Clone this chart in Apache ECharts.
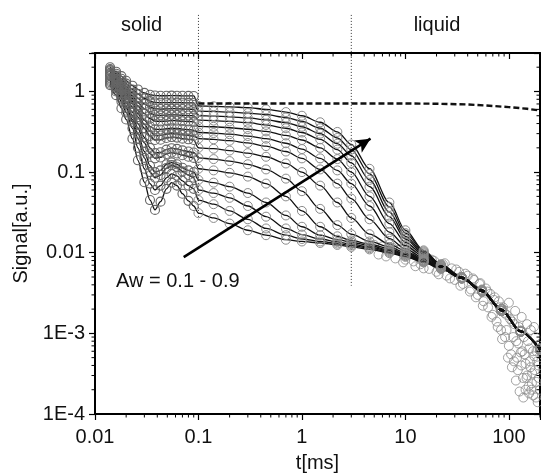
<!DOCTYPE html>
<html>
<head>
<meta charset="utf-8">
<script src="https://cdn.jsdelivr.net/npm/echarts@6/dist/echarts.min.js"></script>
<style>
html,body{margin:0;padding:0;background:#fff}
#main{width:541px;height:473px}
</style>
</head>
<body>
<div id="main"></div>
<script>
// time grids (ms): solid part (dense) and liquid part
var tSolid  = [0.014, 0.016, 0.018, 0.02, 0.023, 0.026, 0.03, 0.034, 0.038, 0.043, 0.049, 0.055, 0.062, 0.07, 0.08, 0.09];
var tLiquid = [0.1, 0.14, 0.2, 0.3, 0.45, 0.7, 1, 1.5, 2.2, 3, 4.5, 7, 10, 15, 22, 35, 55, 85, 130, 200];

// solid part of each curve, lowest curve first
var s0  = [1.2, 0.9, 0.62, 0.45, 0.26, 0.14, 0.075, 0.045, 0.034, 0.043, 0.062, 0.074, 0.068, 0.054, 0.044, 0.038];
var s1  = [1.25, 1.0, 0.75, 0.55, 0.35, 0.2, 0.11, 0.072, 0.06, 0.068, 0.085, 0.095, 0.09, 0.078, 0.068, 0.062];
var s2  = [1.3, 1.05, 0.82, 0.62, 0.42, 0.26, 0.15, 0.1, 0.085, 0.092, 0.112, 0.122, 0.115, 0.102, 0.092, 0.085];
var s3  = [1.35, 1.1, 0.85, 0.65, 0.45, 0.3, 0.18, 0.12, 0.1, 0.105, 0.125, 0.132, 0.125, 0.113, 0.105, 0.1];
var s4  = [1.4, 1.15, 0.9, 0.72, 0.5, 0.35, 0.23, 0.17, 0.148, 0.152, 0.168, 0.175, 0.17, 0.162, 0.155, 0.15];
var s5  = [1.45, 1.2, 0.95, 0.76, 0.55, 0.4, 0.27, 0.2, 0.172, 0.176, 0.19, 0.198, 0.194, 0.186, 0.18, 0.175];
var s6  = [1.55, 1.3, 1.05, 0.85, 0.64, 0.48, 0.35, 0.28, 0.25, 0.252, 0.265, 0.272, 0.268, 0.26, 0.255, 0.25];
var s7  = [1.6, 1.35, 1.1, 0.9, 0.7, 0.53, 0.39, 0.32, 0.285, 0.285, 0.295, 0.3, 0.298, 0.29, 0.285, 0.28];
var s8  = [1.65, 1.4, 1.15, 0.95, 0.75, 0.58, 0.44, 0.37, 0.34, 0.338, 0.345, 0.35, 0.348, 0.342, 0.336, 0.33];
var s9  = [1.7, 1.45, 1.22, 1.02, 0.82, 0.66, 0.53, 0.46, 0.43, 0.425, 0.43, 0.435, 0.433, 0.428, 0.424, 0.42];
var s10 = [1.78, 1.52, 1.28, 1.08, 0.88, 0.73, 0.61, 0.54, 0.51, 0.505, 0.51, 0.514, 0.512, 0.507, 0.503, 0.5];
var s11 = [1.84, 1.58, 1.35, 1.15, 0.96, 0.82, 0.7, 0.64, 0.61, 0.605, 0.608, 0.612, 0.61, 0.606, 0.603, 0.6];
var s12 = [1.9, 1.66, 1.44, 1.25, 1.06, 0.93, 0.82, 0.76, 0.73, 0.725, 0.727, 0.73, 0.728, 0.725, 0.722, 0.72];
var s13 = [2.0, 1.76, 1.55, 1.36, 1.18, 1.06, 0.96, 0.91, 0.89, 0.885, 0.885, 0.888, 0.886, 0.884, 0.882, 0.88];

// liquid part of each curve
var l0  = [0.031, 0.027, 0.023, 0.019, 0.0165, 0.0145, 0.0138, 0.0132, 0.0125, 0.0118, 0.011, 0.0099, 0.0089, 0.0076, 0.0063, 0.0048, 0.0033, 0.0019, 0.00105, 0.00062];
var l1  = [0.045, 0.04, 0.033, 0.026, 0.02, 0.0165, 0.0148, 0.0138, 0.013, 0.0123, 0.0114, 0.0102, 0.0091, 0.0077, 0.0064, 0.0048, 0.0033, 0.0019, 0.00105, 0.00062];
var l2  = [0.06, 0.055, 0.048, 0.038, 0.028, 0.02, 0.0168, 0.0148, 0.0136, 0.0128, 0.0118, 0.0105, 0.0093, 0.0078, 0.0064, 0.0048, 0.0033, 0.0019, 0.00105, 0.00062];
var l3  = [0.08, 0.074, 0.066, 0.055, 0.042, 0.029, 0.021, 0.0165, 0.0145, 0.0135, 0.0123, 0.0108, 0.0095, 0.0079, 0.0064, 0.0048, 0.0033, 0.0019, 0.00105, 0.00062];
var l4  = [0.11, 0.105, 0.098, 0.088, 0.072, 0.05, 0.033, 0.021, 0.016, 0.0142, 0.0128, 0.0112, 0.0097, 0.008, 0.0065, 0.0048, 0.0033, 0.0019, 0.00105, 0.00062];
var l5  = [0.15, 0.145, 0.137, 0.125, 0.108, 0.083, 0.058, 0.035, 0.022, 0.017, 0.0138, 0.0118, 0.01, 0.0081, 0.0065, 0.0048, 0.0033, 0.0019, 0.00105, 0.00062];
var l6  = [0.2, 0.195, 0.185, 0.172, 0.155, 0.128, 0.1, 0.068, 0.042, 0.027, 0.017, 0.0128, 0.0105, 0.0083, 0.0066, 0.0049, 0.0034, 0.0019, 0.00105, 0.00063];
var l7  = [0.26, 0.255, 0.245, 0.23, 0.21, 0.18, 0.148, 0.108, 0.072, 0.047, 0.026, 0.015, 0.0112, 0.0086, 0.0067, 0.0049, 0.0034, 0.0019, 0.00105, 0.00063];
var l8  = [0.31, 0.305, 0.295, 0.28, 0.26, 0.228, 0.193, 0.148, 0.105, 0.072, 0.038, 0.018, 0.0122, 0.009, 0.0068, 0.0049, 0.0034, 0.0019, 0.00105, 0.00063];
var l9  = [0.37, 0.365, 0.355, 0.34, 0.32, 0.285, 0.25, 0.2, 0.145, 0.1, 0.05, 0.023, 0.0135, 0.0094, 0.0069, 0.0049, 0.0034, 0.0019, 0.00106, 0.00063];
var l10 = [0.44, 0.435, 0.425, 0.41, 0.385, 0.35, 0.31, 0.255, 0.19, 0.13, 0.066, 0.028, 0.0148, 0.0098, 0.007, 0.0049, 0.0034, 0.002, 0.00106, 0.00064];
var l11 = [0.5, 0.495, 0.485, 0.47, 0.445, 0.41, 0.365, 0.3, 0.225, 0.16, 0.08, 0.032, 0.016, 0.0101, 0.007, 0.005, 0.0034, 0.002, 0.00107, 0.00064];
var l12 = [0.57, 0.565, 0.555, 0.54, 0.515, 0.475, 0.425, 0.35, 0.265, 0.19, 0.095, 0.037, 0.0175, 0.0104, 0.0071, 0.005, 0.0034, 0.002, 0.00108, 0.00065];
var l13 = [0.66, 0.655, 0.645, 0.63, 0.6, 0.555, 0.5, 0.415, 0.315, 0.22, 0.11, 0.042, 0.019, 0.0107, 0.0072, 0.005, 0.0035, 0.002, 0.00108, 0.00065];

var solidCurves  = [s0, s1, s2, s3, s4, s5, s6, s7, s8, s9, s10, s11, s12, s13];
var liquidCurves = [l0, l1, l2, l3, l4, l5, l6, l7, l8, l9, l10, l11, l12, l13];

// dashed reference line
var dashT = [0.1, 0.3, 1, 3, 10, 20, 40, 60, 100, 150, 200];
var dashS = [0.71, 0.71, 0.71, 0.71, 0.71, 0.705, 0.69, 0.67, 0.64, 0.61, 0.58];

// scattered points in the noisy tail
var noiseT = [5, 5.5, 6, 6.5, 7.5, 8, 8.5, 9, 9.5, 10, 11, 11, 12, 12.5, 13, 13.5, 14, 15, 16, 17, 18, 19, 20, 21, 23, 24, 25, 27, 28, 30, 31, 33, 34, 36, 38, 40, 42, 43, 45, 46, 48, 50, 52, 53, 56, 57, 60, 62, 63, 66, 68, 70, 72, 73, 76, 78, 80, 82, 84, 86, 88, 90, 92, 95, 95, 98, 100, 100, 103, 105, 107, 108, 110, 112, 113, 115, 117, 118, 120, 122, 123, 125, 127, 130, 132, 133, 135, 137, 138, 140, 142, 145, 145, 148, 150, 150, 153, 155, 157, 158, 160, 162, 163, 165, 167, 168, 171, 172, 175, 176, 178, 180, 183, 185, 185, 188, 190, 193, 195, 197, 200];
var noiseS = [0.0125, 0.0095, 0.012, 0.009, 0.0115, 0.0085, 0.0108, 0.011, 0.0076, 0.0082, 0.0105, 0.0098, 0.0078, 0.0068, 0.0095, 0.0092, 0.0072, 0.0064, 0.0088, 0.0063, 0.0082, 0.0079, 0.0058, 0.0054, 0.0072, 0.0074, 0.0052, 0.0048, 0.0064, 0.0046, 0.0062, 0.0058, 0.0039, 0.0041, 0.0055, 0.0052, 0.0033, 0.0035, 0.0048, 0.0046, 0.0028, 0.003, 0.0041, 0.0042, 0.0022, 0.0025, 0.0036, 0.0033, 0.0021, 0.0031, 0.0016, 0.0017, 0.0026, 0.0028, 0.0014, 0.0012, 0.0025, 0.0021, 0.0011, 0.00085, 0.0021, 0.0018, 0.0009, 0.0017, 0.0011, 0.0005, 0.0007, 0.0024, 0.0015, 0.00055, 0.00038, 0.0014, 0.0009, 0.00045, 0.0013, 0.0019, 0.00026, 0.0008, 0.0005, 0.00035, 0.00075, 0.0012, 0.00019, 0.00058, 0.0004, 0.0016, 0.0006, 0.00028, 0.00016, 0.0009, 0.00055, 0.00042, 0.0002, 0.00028, 0.0013, 0.0003, 0.0008, 0.00022, 0.00018, 0.00065, 0.00045, 0.00038, 0.0011, 0.0002, 0.00024, 0.00032, 0.0006, 0.00017, 0.0012, 0.00052, 0.00035, 0.0009, 0.00016, 0.00025, 0.0006, 0.00045, 0.00014, 0.0004, 0.00028, 0.0007, 0.0002];

// vertical dotted borders: position, lower end, upper end
var borderT = [0.1, 3];
var borderLow = [0.026, 0.0039];
var borderHigh = [8.9, 8.9];

// arrow from / to
var arrowFrom = [0.072, 0.0088];
var arrowTo = [4.6, 0.26];

// axis ticks
var xTickValues = [0.01, 0.1, 1, 10, 100];
var xTickLabels = ['0.01', '0.1', '1', '10', '100'];
var yTickValues = [0.0001, 0.001, 0.01, 0.1, 1];
var yTickLabels = ['1E-4', '1E-3', '0.01', '0.1', '1'];

var xMin = 0.01, xMax = 200, yMin = 0.0001, yMax = 3;
var font = 'Liberation Sans, Arial, sans-serif';

function tickLabel(values, labels){
  return function(v){
    for (var i = 0; i < values.length; i++) {
      if (Math.abs(Math.log10(v) - Math.log10(values[i])) < 1e-6) return labels[i];
    }
    return '';
  };
}

// minor tick positions 2..9 per decade
var minorX = [], minorY = [];
for (var k = -2; k <= 2; k++) for (var m = 2; m <= 9; m++) {
  var v = m * Math.pow(10, k);
  if (v > xMin && v <= xMax) minorX.push([v, yMin]);
}
for (var k2 = -4; k2 <= 0; k2++) for (var m2 = 2; m2 <= 9; m2++) {
  var w = m2 * Math.pow(10, k2);
  if (w > yMin && w <= yMax) minorY.push([xMin, w]);
}

var circleStyle = {color: 'rgba(0,0,0,0)', borderColor: '#8a8a8a', borderWidth: 1};
var denseStyle = {color: 'rgba(0,0,0,0)', borderColor: '#666', borderWidth: 1.1};

var series = [];

// noise underneath
series.push({
  type: 'scatter', data: noiseT.map(function(t, i){ return [t, noiseS[i]]; }),
  symbol: 'circle', symbolSize: 9, z: 2, silent: true, itemStyle: circleStyle
});

for (var i = 0; i < solidCurves.length; i++) {
  var pts = [];
  tSolid.forEach(function(t, j){ pts.push({value: [t, solidCurves[i][j]], itemStyle: denseStyle}); });
  tLiquid.forEach(function(t, j){ pts.push([t, liquidCurves[i][j]]); });
  series.push({
    type: 'line', data: pts, smooth: 0.3, smoothMonotone: 'x',
    symbol: 'circle', symbolSize: 9, showAllSymbol: true, z: 3, silent: true,
    lineStyle: {color: '#111', width: 1.3},
    itemStyle: circleStyle
  });
}

series.push({
  type: 'line', data: dashT.map(function(t, i){ return [t, dashS[i]]; }),
  symbol: 'none', z: 4, silent: true,
  lineStyle: {color: '#111', width: 2.4, type: [6, 3]}
});

// dotted region borders (reach above the frame)
series.push({
  type: 'custom', z: 1, silent: true, clip: false,
  data: borderT.map(function(t, i){ return [t, borderLow[i], borderHigh[i]]; }),
  renderItem: function(params, api){
    var a = api.coord([api.value(0), api.value(2)]);
    var b = api.coord([api.value(0), api.value(1)]);
    return {type: 'line', shape: {x1: a[0], y1: a[1], x2: b[0], y2: b[1]},
      style: {stroke: '#333', lineWidth: 1, lineDash: [1, 2]}};
  }
});

// arrow
series.push({
  type: 'line', data: [], silent: true, z: 6,
  markLine: {
    silent: true, symbol: ['none', 'arrow'], symbolSize: [11, 15], label: {show: false}, animation: false,
    lineStyle: {color: '#000', width: 2.6, type: 'solid'},
    data: [[{coord: arrowFrom}, {coord: arrowTo}]]
  }
});

// minor ticks
series.push({
  type: 'custom', data: minorX, z: 10, silent: true, clip: false,
  renderItem: function(params, api){
    var b = api.coord([api.value(0), yMin]);
    var t = api.coord([api.value(0), yMax]);
    return {type: 'group', children: [
      {type: 'line', shape: {x1: b[0], y1: b[1], x2: b[0], y2: b[1] + 3.5}, style: {stroke: '#000', lineWidth: 1}},
      {type: 'line', shape: {x1: t[0], y1: t[1], x2: t[0], y2: t[1] + 3.5}, style: {stroke: '#000', lineWidth: 1}}
    ]};
  }
});
series.push({
  type: 'custom', data: minorY, z: 10, silent: true, clip: false,
  renderItem: function(params, api){
    var l = api.coord([xMin, api.value(1)]);
    var r = api.coord([xMax, api.value(1)]);
    return {type: 'group', children: [
      {type: 'line', shape: {x1: l[0], y1: l[1], x2: l[0] - 3.5, y2: l[1]}, style: {stroke: '#000', lineWidth: 1}},
      {type: 'line', shape: {x1: r[0], y1: r[1], x2: r[0] - 3.5, y2: r[1]}, style: {stroke: '#000', lineWidth: 1}}
    ]};
  }
});

var axisLine = {show: true, lineStyle: {color: '#000', width: 2}};

var chart = echarts.init(document.getElementById('main'), null, {renderer: 'canvas'});
chart.setOption({
  animation: false,
  backgroundColor: '#fff',
  textStyle: {fontFamily: font},
  grid: {left: 95, right: 1, top: 53, bottom: 59, containLabel: false, outerBoundsMode: 'none'},
  xAxis: [{
    type: 'log', logBase: 10, min: xMin, max: xMax, position: 'bottom',
    axisLine: axisLine, splitLine: {show: false},
    axisTick: {show: true, inside: false, length: 6, lineStyle: {color: '#000', width: 1.2}},
    axisLabel: {margin: 13, fontSize: 20, color: '#111', fontFamily: font, formatter: tickLabel(xTickValues, xTickLabels)},
    name: 't[ms]', nameLocation: 'middle', nameGap: 39,
    nameTextStyle: {fontSize: 20, color: '#111', fontFamily: font}
  }, {
    type: 'log', logBase: 10, min: xMin, max: xMax, position: 'top',
    axisLine: axisLine, splitLine: {show: false},
    axisTick: {show: true, inside: true, length: 6, lineStyle: {color: '#000', width: 1.2}},
    axisLabel: {show: false}
  }],
  yAxis: [{
    type: 'log', logBase: 10, min: yMin, max: yMax, position: 'left',
    axisLine: axisLine, splitLine: {show: false},
    axisTick: {show: true, inside: false, length: 6, lineStyle: {color: '#000', width: 1.2}},
    axisLabel: {margin: 10, fontSize: 20, color: '#111', fontFamily: font, formatter: tickLabel(yTickValues, yTickLabels)},
    name: 'Signal[a.u.]', nameLocation: 'middle', nameGap: 63,
    nameTextStyle: {fontSize: 20, color: '#111', fontFamily: font}
  }, {
    type: 'log', logBase: 10, min: yMin, max: yMax, position: 'right',
    axisLine: axisLine, splitLine: {show: false},
    axisTick: {show: true, inside: true, length: 6, lineStyle: {color: '#000', width: 1.2}},
    axisLabel: {show: false}
  }],
  graphic: [
    {type: 'text', x: 141.5, y: 25, style: {text: 'solid', fontSize: 20, fontFamily: font, fill: '#111', textAlign: 'center', textVerticalAlign: 'middle'}},
    {type: 'text', x: 437, y: 25, style: {text: 'liquid', fontSize: 20, fontFamily: font, fill: '#111', textAlign: 'center', textVerticalAlign: 'middle'}},
    {type: 'text', x: 116, y: 281, style: {text: 'Aw = 0.1 - 0.9', fontSize: 20, fontFamily: font, fill: '#111', textAlign: 'left', textVerticalAlign: 'middle'}}
  ],
  series: series
});
</script>
</body>
</html>
